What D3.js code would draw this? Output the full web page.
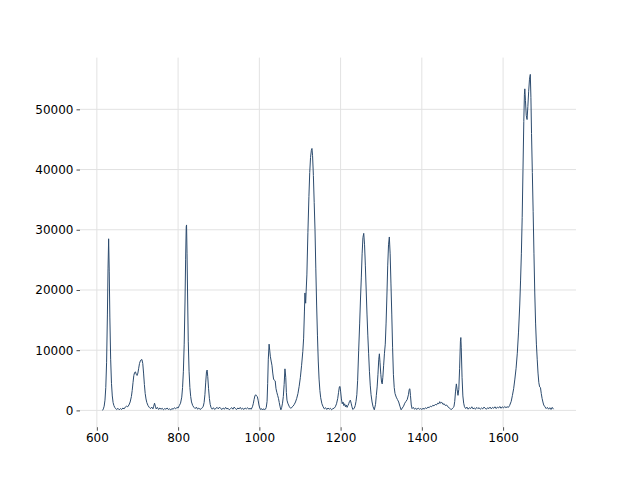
<!DOCTYPE html>
<html>
<head>
<meta charset="utf-8">
<script src="https://cdn.jsdelivr.net/npm/d3@7"></script>
<style>
  html, body { margin: 0; padding: 0; background: #ffffff; }
  svg { display: block; }
</style>
</head>
<body>
<svg id="chart" width="640" height="480"></svg>
<script>
// Raman-like spectrum: [wavenumber, intensity]
const spectrum = [
  [614,0],[616,250],[618,700],[620,1700],[622,3800],[624,8000],[626,16000],[627.5,23500],[629,28500],
  [630.5,23000],[632,15500],[634,8500],[636,4500],[638,2400],[640,1300],[642,800],[644,500],[646,300],
  [649,150],[652,350],[655,100],[658,300],[661,150],[664,400],[667,250],[670,550],[673,700],[676,600],
  [679,900],[682,1400],[685,2300],[687,3300],[689,4600],[691,5800],[693,6300],[695,6400],[697,6000],
  [699,5800],[701,6200],[703,7000],[705,7800],[707,8200],[709,8400],[711,8450],[713,7800],[715,6200],
  [717,4300],[719,2800],[721,1900],[723,1300],[726,800],[729,500],[732,300],[735,550],[738,250],[740,700],
  [742,1200],[744,700],[746,250],[749,500],[752,150],[755,400],[758,200],[761,350],[764,100],[767,300],
  [770,200],[773,400],[776,150],[779,250],[782,100],[785,300],[788,200],[791,450],[794,250],[797,500],
  [800,400],[803,800],[806,1200],[809,2200],[811,3800],[813,6500],[815,11000],[817,18000],[818.5,25000],
  [820,30500],[820.8,30800],[822,26000],[823.5,18500],[825,11500],[827,6500],[829,3800],[831,2300],
  [833,1400],[836,800],[839,500],[842,300],[845,550],[848,200],[851,400],[854,150],[857,300],[860,450],
  [862,700],[864,1300],[866,2600],[868,4700],[870,6500],[871.5,6700],[873,5600],[875,3600],[877,2000],
  [879,1000],[881,500],[884,200],[887,450],[890,150],[893,350],[896,500],[899,250],[902,550],[905,300],
  [908,150],[911,400],[914,200],[917,500],[920,250],[923,350],[926,100],[929,300],[932,450],[935,200],
  [938,550],[941,300],[944,150],[947,400],[950,250],[953,500],[956,200],[959,350],[962,150],[965,400],
  [968,250],[971,450],[974,200],[977,350],[980,200],[983,600],[985,1100],[987,1800],[989,2400],[991,2600],
  [993,2400],[995,2300],[997,1700],[999,900],[1001,400],[1003,150],[1005,300],[1007,100],[1009,250],
  [1012,150],[1015,200],[1017,500],[1019,1500],[1020.5,4500],[1022,8500],[1024,11000],[1025.5,10000],
  [1027,9000],[1029,8200],[1031,7500],[1033,6200],[1035,5200],[1037,5000],[1039,4900],[1041,3600],
  [1043,3000],[1045,2500],[1047,2000],[1049,1300],[1051,600],[1053,100],[1055,500],[1057,1200],[1059,2300],
  [1061,4300],[1063,6900],[1065,5500],[1066.5,3000],[1068,1700],[1070,1200],[1072,900],[1074,600],
  [1077,350],[1080,500],[1083,700],[1086,1000],[1089,1400],[1092,2000],[1095,2800],[1098,4000],[1101,5500],
  [1104,7500],[1107,9800],[1109,12000],[1111,16500],[1112.3,19500],[1113,18500],[1114,17800],[1115.2,19800],
  [1117,22500],[1119.5,29500],[1122,35500],[1124,39500],[1126,42000],[1128,43200],[1129.5,43500],
  [1131,42300],[1133,39000],[1135,34500],[1137,30000],[1139,23500],[1141,17500],[1143,12500],[1145,8200],
  [1147,5200],[1149,3300],[1151,2100],[1154,1100],[1157,600],[1160,250],[1163,450],[1166,150],[1169,400],
  [1172,200],[1175,350],[1178,100],[1181,300],[1184,350],[1187,600],[1190,1100],[1193,2000],[1195,3000],
  [1197,3900],[1198.5,4000],[1200,3200],[1202,1900],[1204,1100],[1206,1400],[1208,800],[1210,1100],
  [1212,600],[1214,900],[1216,500],[1218,800],[1220,1100],[1222,1500],[1224,1700],[1226,1200],[1228,600],
  [1230,150],[1232,250],[1234,400],[1236,800],[1238,1500],[1240,2600],[1242,5000],[1244.5,9900],
  [1247,14500],[1249,18500],[1251,22000],[1253,26000],[1255,28700],[1257,29400],[1259,27500],[1261,24000],
  [1263,20000],[1265,16000],[1267,12500],[1269,9500],[1271,6500],[1273,4200],[1275,2600],[1277.5,1400],
  [1280,600],[1283,100],[1286,1000],[1288,2500],[1290,3900],[1292,6000],[1294,8500],[1295.5,9400],
  [1297,8000],[1299,6000],[1301,4600],[1302.5,4400],[1304,5500],[1306,7500],[1308,9500],[1310,11000],
  [1312,14500],[1314,19000],[1316,24000],[1318,27500],[1320,28800],[1322,26000],[1324,21000],[1326,16000],
  [1328,10500],[1330,6000],[1332,3800],[1334,2800],[1337,2200],[1340,1800],[1343,1400],[1346,700],
  [1349,100],[1352,400],[1355,700],[1358,1200],[1361,1500],[1364,1800],[1367,2600],[1369,3500],
  [1370.5,3600],[1372,2500],[1374,900],[1376,300],[1379,500],[1382,200],[1385,350],[1388,150],[1391,400],
  [1394,200],[1397,300],[1400,150],[1403,350],[1406,200],[1409,450],[1412,300],[1415,550],[1418,450],
  [1421,700],[1424,600],[1427,850],[1430,750],[1433,1000],[1436,900],[1439,1200],[1442,1100],[1444,1450],
  [1446,1200],[1449,1350],[1452,1000],[1455,1100],[1458,800],[1461,900],[1464,600],[1467,450],[1470,250],
  [1473,150],[1476,400],[1479,600],[1481,1500],[1483,3200],[1485,4400],[1487,3400],[1489,2500],[1491,3500],
  [1493,7000],[1495,11500],[1496,12100],[1497,10500],[1499,5500],[1501,2400],[1503,1200],[1505,600],
  [1508,300],[1511,550],[1514,200],[1517,450],[1520,300],[1523,600],[1526,250],[1529,400],[1532,200],
  [1535,500],[1538,300],[1541,450],[1544,200],[1547,400],[1550,250],[1553,550],[1556,350],[1559,200],
  [1562,450],[1565,300],[1568,550],[1571,250],[1574,500],[1577,350],[1580,600],[1583,300],[1586,550],
  [1589,400],[1592,650],[1595,350],[1598,600],[1601,400],[1604,650],[1607,450],[1610,600],[1613,500],
  [1616,800],[1620,1500],[1623,2500],[1626,3600],[1629,5200],[1632,7000],[1635,9500],[1638,13000],
  [1641,17500],[1643,21500],[1645,26000],[1647,32000],[1649,40000],[1651,48000],[1652.5,52500],
  [1653.5,53400],[1655,51500],[1657,49000],[1659,48300],[1661,50500],[1663,53000],[1665,55000],
  [1667,55800],[1668.5,52000],[1670,46000],[1672,39500],[1674,33000],[1676,26000],[1678,19500],
  [1680,14500],[1682,11000],[1684,8500],[1686,6200],[1688,4600],[1690,3900],[1692,3800],[1694,2800],
  [1696,2000],[1698,1400],[1700,900],[1703,600],[1706,300],[1709,500],[1712,200],[1715,450],[1718,150],
  [1721,500],[1724,200]
];
const xTicks = [600, 800, 1000, 1200, 1400, 1600];
const yTicks = [0, 10000, 20000, 30000, 40000, 50000];

const svg = d3.select("#chart");
const W = 640, H = 480;
const m = { left: 80, right: 64, top: 57.6, bottom: 52.8 };
const iw = W - m.left - m.right, ih = H - m.top - m.bottom;

const xExt = d3.extent(spectrum, d => d[0]);
const yExt = d3.extent(spectrum, d => d[1]);
const xPad = (xExt[1] - xExt[0]) * 0.05, yPad = (yExt[1] - yExt[0]) * 0.05;
const x = d3.scaleLinear().domain([xExt[0] - xPad, xExt[1] + xPad]).range([m.left, m.left + iw]);
const y = d3.scaleLinear().domain([yExt[0] - yPad, yExt[1] + yPad]).range([m.top + ih, m.top]);

const grid = svg.append("g");
grid.selectAll("line.gx").data(xTicks).join("line")
  .attr("x1", d => x(d)).attr("x2", d => x(d))
  .attr("y1", m.top).attr("y2", m.top + ih)
  .attr("stroke", "#e2e2e2").attr("stroke-width", 1);
grid.selectAll("line.gy").data(yTicks).join("line")
  .attr("x1", m.left).attr("x2", m.left + iw)
  .attr("y1", d => y(d)).attr("y2", d => y(d))
  .attr("stroke", "#e2e2e2").attr("stroke-width", 1);

const xAxis = svg.append("g").attr("transform", `translate(0,${m.top + ih})`)
  .call(d3.axisBottom(x).tickValues(xTicks).tickFormat(d3.format("d")).tickSize(3.5).tickPadding(3));
const yAxis = svg.append("g").attr("transform", `translate(${m.left},0)`)
  .call(d3.axisLeft(y).tickValues(yTicks).tickFormat(d3.format("d")).tickSize(3.5).tickPadding(3));
[xAxis, yAxis].forEach(g => {
  g.select(".domain").remove();
  g.selectAll(".tick line").attr("stroke", "#222222").attr("stroke-width", 0.8);
  g.selectAll(".tick text").attr("fill", "#000000")
    .style("font-family", "DejaVu Sans, sans-serif").style("font-size", "12px");
});

const line = d3.line().x(d => x(d[0])).y(d => y(d[1]));
svg.append("path").datum(spectrum)
  .attr("d", line)
  .attr("fill", "none")
  .attr("stroke", "#2c4b6e")
  .attr("stroke-width", 1)
  .attr("stroke-linejoin", "round");
</script>
</body>
</html>
